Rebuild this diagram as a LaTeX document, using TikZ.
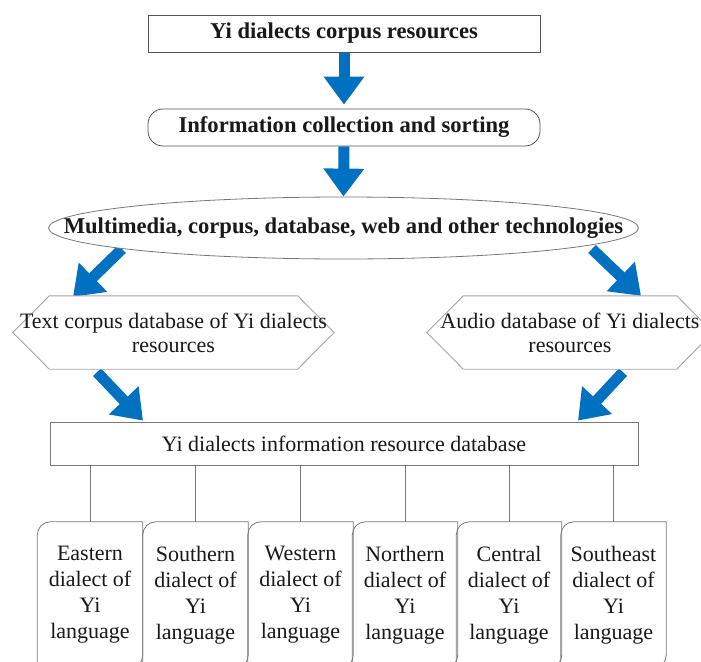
\documentclass[tikz,border=0pt]{standalone}
\usepackage{fontspec}
\setmainfont{Liberation Serif}
\usetikzlibrary{arrows.meta,shapes.geometric,calc}
\pgfdeclarelayer{back}
\pgfsetlayers{back,main}
\definecolor{arrowblue}{RGB}{0,112,192}
\definecolor{edgegray}{RGB}{85,85,85}
\definecolor{midgray}{RGB}{120,120,120}
\definecolor{lightedge}{RGB}{165,165,165}
\definecolor{inkblack}{RGB}{25,25,25}

\begin{document}
\begin{tikzpicture}[x=1pt,y=1pt,
  bigarrow/.style={draw=arrowblue, line width=11pt, -{Triangle[width=39pt,length=28pt]}},
  boldtxt/.style={font=\fontsize{22.6}{27}\selectfont\bfseries, text=inkblack, inner sep=0pt},
  plaintxt/.style={font=\fontsize{22}{24}\selectfont, text=inkblack, inner sep=0pt},
  titlebox/.style={draw=edgegray, line width=0.8pt, fill=white, minimum width=392pt, minimum height=37pt, inner sep=0pt, boldtxt},
  infobox/.style={titlebox, rounded corners=15pt},
  ellbox/.style={ellipse, draw=midgray, line width=0.8pt, fill=white, minimum width=590pt, minimum height=62pt, inner sep=0pt},
  hexslot/.style={rectangle, draw=none, minimum width=#1, minimum height=73pt, inner sep=0pt},
  hexline/.style={draw=lightedge, line width=0.9pt, fill=white},
  dbbox/.style={draw=midgray, line width=0.8pt, fill=white, minimum width=588pt, minimum height=43pt, inner sep=0pt, plaintxt},
  dialbox/.style={rectangle, draw=none, minimum width=105pt, minimum height=146pt, inner sep=0pt, align=center,
    font=\fontsize{22}{26}\selectfont, text=inkblack},
  dialframe/.style={draw=midgray, line width=0.8pt},
  conn/.style={draw=midgray, line width=0.8pt}
]
\useasboundingbox (0,0) rectangle (701,-661);
\clip (0,0) rectangle (701,-661);

% top of the flow
\node[titlebox] (top) at (344,-33.5) {Yi dialects corpus resources};
\node[infobox] (info) at (344,-127.5) {Information collection and sorting};
\node[ellbox] (ell) at (343.5,-228) {};
\node[boldtxt] (elltxt) at (ell.center) {Multimedia, corpus, database, web and other technologies};

% the two hexagonal databases
\node[hexslot=321pt] (hexL) at (173.5,-332.5) {};
\node[hexslot=286pt] (hexR) at (570,-332.5) {};
\foreach \h in {hexL,hexR}
  \draw[hexline] (\h.west) -- ([xshift=36.5pt]\h.north west) -- ([xshift=-36.5pt]\h.north east)
    -- (\h.east) -- ([xshift=-36.5pt]\h.south east) -- ([xshift=36.5pt]\h.south west) -- cycle;
\node[plaintxt, align=center] (hexLtxt) at (hexL.center) {Text corpus database of Yi dialects\\resources};
\node[plaintxt, align=center] (hexRtxt) at (hexR.center) {Audio database of Yi dialects\\resources};

% merged database
\node[dbbox] (db) at (344,-443.5) {Yi dialects information resource database};

% six dialect boxes
\node[dialbox] (c1) at (90,-595)    {Eastern\\dialect of\\Yi\\language};
\node[dialbox] (c2) at (195.5,-595) {Southern\\dialect of\\Yi\\language};
\node[dialbox] (c3) at (300.5,-595) {Western\\dialect of\\Yi\\language};
\node[dialbox] (c4) at (405,-595)   {Northern\\dialect of\\Yi\\language};
\node[dialbox] (c5) at (509,-595)   {Central\\dialect of\\Yi\\language};
\node[dialbox] (c6) at (613.5,-595) {Southeast\\dialect of\\Yi\\language};
\foreach \n in {c1,c2,c3,c4,c5,c6}{
  \draw[dialframe] (\n.north east) -- ([xshift=13pt]\n.north west)
    arc[start angle=90,end angle=180,radius=13pt] -- (\n.south west)
    -- ([xshift=-13pt]\n.south east) arc[start angle=270,end angle=360,radius=13pt] -- cycle;
  \draw[conn] (\n.north) -- (\n.north |- db.south);
}

% white page and block arrows behind the shapes
\begin{pgfonlayer}{back}
\fill[white] (0,0) rectangle (701,-661);
\draw[bigarrow, shorten >=4pt] (top.south) -- (info.north);
\draw[bigarrow] (info.south) -- (ell.north);
\draw[bigarrow] ($(ell.center)+(-221.5,-21)$) -- ($(hexL.north)+(-100.5,-1)$);
\draw[bigarrow] ($(ell.center)+(248.5,-21)$) -- ($(hexR.north)+(71,0)$);
\draw[bigarrow] ($(hexL.south)+(-76.5,-3)$) -- ($(db.north)+(-201,1)$);
\draw[bigarrow] ($(hexR.south)+(53,-3)$) -- ($(db.north)+(234,1)$);
\end{pgfonlayer}
\end{tikzpicture}
\end{document}
